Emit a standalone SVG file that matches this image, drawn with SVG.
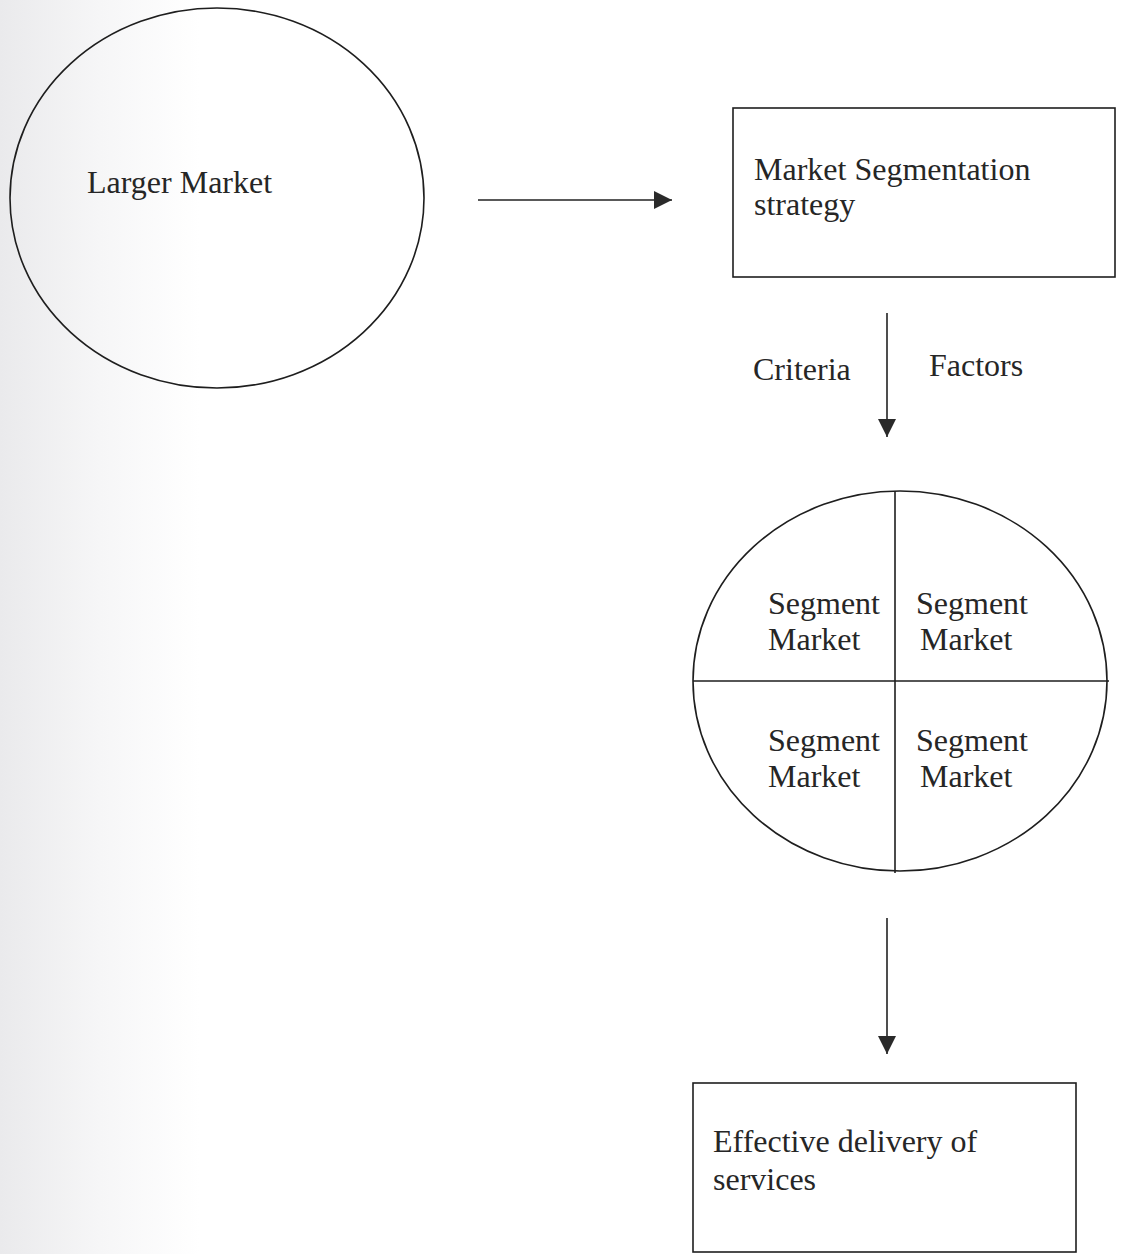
<svg xmlns="http://www.w3.org/2000/svg" width="1123" height="1254" viewBox="0 0 1123 1254">
  <defs>
    <linearGradient id="scan" x1="0" y1="0" x2="1" y2="0">
      <stop offset="0" stop-color="#eaeaec"/>
      <stop offset="0.5" stop-color="#f6f6f7"/>
      <stop offset="1" stop-color="#ffffff"/>
    </linearGradient>
    <marker id="arrow" viewBox="0 0 10 10" refX="10" refY="5" markerWidth="18" markerHeight="18" markerUnits="userSpaceOnUse" orient="auto">
      <path d="M0,0 L10,5 L0,10 Z" fill="#2a2a2a"/>
    </marker>
  </defs>
  <style>
    .shape { fill: none; stroke: #1e1e1e; stroke-width: 1.6; }
    .conn { fill: none; stroke: #222; stroke-width: 1.6; }
    text { font-family: "Liberation Serif", "Times New Roman", serif; font-size: 32px; fill: #262626; }
  </style>
  <rect x="0" y="0" width="1123" height="1254" fill="#ffffff"/>
  <rect x="0" y="0" width="200" height="1254" fill="url(#scan)"/>

  <g id="larger-market">
    <ellipse class="shape" cx="217" cy="198" rx="207" ry="190"/>
    <text x="87" y="193">Larger Market</text>
  </g>

  <g id="segmentation-strategy">
    <rect class="shape" x="733" y="108" width="382" height="169"/>
    <text x="754" y="180">Market Segmentation</text>
    <text x="754" y="215">strategy</text>
  </g>

  <g id="segment-markets">
    <ellipse class="shape" cx="900" cy="681" rx="207" ry="190"/>
    <line class="shape" x1="895" y1="491" x2="895" y2="873"/>
    <line class="shape" x1="693" y1="681" x2="1109" y2="681"/>
    <text x="768" y="614">Segment</text>
    <text x="768" y="650">Market</text>
    <text x="916" y="614">Segment</text>
    <text x="920" y="650">Market</text>
    <text x="768" y="751">Segment</text>
    <text x="768" y="787">Market</text>
    <text x="916" y="751">Segment</text>
    <text x="920" y="787">Market</text>
  </g>

  <g id="effective-delivery">
    <rect class="shape" x="693" y="1083" width="383" height="169"/>
    <text x="713" y="1152">Effective delivery of</text>
    <text x="713" y="1190">services</text>
  </g>

  <g id="connectors">
    <line class="conn" x1="478" y1="200" x2="672" y2="200" marker-end="url(#arrow)"/>
    <line class="conn" x1="887" y1="313" x2="887" y2="437" marker-end="url(#arrow)"/>
    <text x="753" y="380">Criteria</text>
    <text x="929" y="376">Factors</text>
    <line class="conn" x1="887" y1="918" x2="887" y2="1054" marker-end="url(#arrow)"/>
  </g>
</svg>
